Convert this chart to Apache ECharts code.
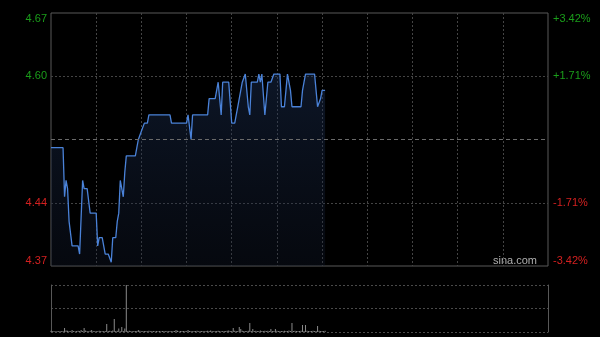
<!DOCTYPE html>
<html><head><meta charset="utf-8">
<script src="https://cdn.jsdelivr.net/npm/echarts@6/dist/echarts.min.js"></script>
<style>html,body{margin:0;padding:0;background:#000}#c{width:600px;height:337px}</style>
</head><body><div id="c"></div>
<script>
const prevClose = 4.52;
const pctMin = -3.42, pctMax = 3.42, pctStep = 1.71;

const prices = [
4.51,4.51,4.51,4.51,4.51,4.51,4.51,4.51,4.51,4.45,
4.47,4.46,4.42,4.42,4.39,4.39,4.39,4.39,4.39,4.38,
4.38,4.47,4.46,4.46,4.46,4.46,4.43,4.43,4.43,4.43,
4.43,4.39,4.40,4.40,4.40,4.40,4.38,4.38,4.38,4.38,
4.37,4.40,4.40,4.40,4.42,4.43,4.47,4.47,4.45,4.48,
4.50,4.50,4.50,4.50,4.50,4.50,4.50,4.51,4.52,4.52,
4.53,4.53,4.54,4.54,4.54,4.55,4.55,4.55,4.55,4.55,
4.55,4.55,4.55,4.55,4.55,4.55,4.55,4.55,4.55,4.55,
4.54,4.54,4.54,4.54,4.54,4.54,4.54,4.54,4.54,4.54,
4.54,4.55,4.55,4.52,4.55,4.55,4.55,4.55,4.55,4.55,
4.55,4.55,4.55,4.55,4.55,4.57,4.57,4.57,4.57,4.57,
4.57,4.59,4.59,4.55,4.59,4.59,4.59,4.59,4.59,4.59,
4.54,4.54,4.54,4.55,4.56,4.57,4.58,4.59,4.59,4.60,
4.60,4.56,4.55,4.59,4.59,4.59,4.59,4.59,4.60,4.59,
4.60,4.60,4.55,4.55,4.59,4.59,4.59,4.59,4.60,4.60,
4.60,4.60,4.60,4.56,4.56,4.56,4.58,4.60,4.60,4.58,
4.56,4.56,4.56,4.56,4.56,4.56,4.56,4.58,4.59,4.60,
4.60,4.60,4.60,4.60,4.60,4.60,4.58,4.56,4.56,4.57,
4.58,4.58,4.58
];

const volumes = [
12,8,10,6,9,7,11,8,10,40,
15,12,9,8,20,10,7,9,12,11,
20,10,40,14,9,8,12,20,10,8,
9,7,12,10,8,9,11,80,10,12,
9,14,130,10,12,35,8,50,10,35,
2000,10,12,9,8,10,11,9,20,12,
8,10,9,11,7,12,8,9,10,8,
9,7,10,8,11,9,8,10,7,9,
8,10,9,20,12,8,10,9,11,10,
8,20,9,11,8,10,9,12,8,10,
9,11,8,10,12,9,14,10,8,11,
9,12,10,8,11,9,10,12,14,10,
11,40,12,9,10,50,30,12,10,11,
9,12,90,11,30,10,12,9,10,14,
10,9,12,11,13,10,30,9,11,30,
12,10,9,11,10,12,9,10,14,11,
90,10,12,9,11,10,12,70,10,70,
12,9,11,10,12,9,10,60,12,10,
11,9,12
];

// trading minutes 09:30-12:00, 13:00-16:00 (merged at noon)
const categories = [];
for (let k = 0; k <= 330; k++) {
  const t = k <= 150 ? 570 + k : 780 + (k - 150);
  const h = Math.floor(t / 60), m = t % 60;
  categories.push((h < 10 ? '0' : '') + h + ':' + (m < 10 ? '0' : '') + m);
}

const pct = prices.map(p => +((p / prevClose - 1) * 100).toFixed(4));
const green = '#1a9e1a', red = '#d42020';
const lblColor = v => (v > 1e-6 ? green : (v < -1e-6 ? red : 'transparent'));
const FONT = '"Liberation Sans", Arial, sans-serif';

const chart = echarts.init(document.getElementById('c'), null, {renderer: 'canvas'});
chart.setOption({
  backgroundColor: '#000',
  animation: false,
  grid: [
    {left: 51, right: 52, top: 13, height: 253, show: true, borderColor: '#585858', borderWidth: 1, backgroundColor: 'transparent'},
    {left: 51, right: 52, top: 285, height: 47}
  ],
  xAxis: [
    {type: 'category', gridIndex: 0, data: categories, boundaryGap: false,
     axisLine: {show: false}, axisTick: {show: false}, axisLabel: {show: false},
     splitLine: {show: true, interval: (i) => i % 30 === 0 && i > 0 && i < 330,
       lineStyle: {color: '#444', type: [2, 2], width: 1}}},
    {type: 'category', gridIndex: 1, data: categories, boundaryGap: false,
     axisLine: {show: false}, axisTick: {show: false}, axisLabel: {show: false}, splitLine: {show: false}}
  ],
  yAxis: [
    {type: 'value', gridIndex: 0, position: 'left', min: pctMin, max: pctMax, interval: pctStep,
     axisLine: {show: false}, axisTick: {show: false},
     axisLabel: {margin: 4, fontSize: 11, fontFamily: FONT, color: lblColor,
       verticalAlignMaxLabel: 'top', verticalAlignMinLabel: 'bottom',
       formatter: v => Math.abs(v) < 1e-6 ? '' : (prevClose * (1 + v / 100)).toFixed(2)},
     splitLine: {show: true, lineStyle: {color: ['transparent', '#444', 'transparent', '#444', 'transparent'], type: [2, 2]}}},
    {type: 'value', gridIndex: 0, position: 'right', min: pctMin, max: pctMax, interval: pctStep,
     axisLine: {show: false}, axisTick: {show: false}, splitLine: {show: false},
     axisLabel: {margin: 5, fontSize: 11, fontFamily: FONT, color: lblColor,
       verticalAlignMaxLabel: 'top', verticalAlignMinLabel: 'bottom',
       formatter: v => Math.abs(v) < 1e-6 ? '' : (v > 0 ? '+' : '') + v.toFixed(2) + '%'}},
    {type: 'value', gridIndex: 1, position: 'left', min: 0, max: 470, interval: 235,
     axisLine: {show: true, lineStyle: {color: '#585858'}}, axisTick: {show: false}, axisLabel: {show: false},
     splitLine: {show: true, lineStyle: {color: '#4a4a4a', type: [2, 2]}}},
    {type: 'value', gridIndex: 1, position: 'right', min: 0, max: 470, interval: 235,
     axisLine: {show: true, lineStyle: {color: '#585858'}}, axisTick: {show: false}, axisLabel: {show: false},
     splitLine: {show: false}}
  ],
  series: [
    {type: 'line', xAxisIndex: 0, yAxisIndex: 0, data: pct, symbol: 'none', smooth: false,
     lineStyle: {color: '#4a82d8', width: 1.3},
     areaStyle: {origin: 'start', color: new echarts.graphic.LinearGradient(0, 0, 0, 1, [
       {offset: 0, color: 'rgba(30,52,92,0.6)'}, {offset: 1, color: 'rgba(20,30,52,0.4)'}])},
     markLine: {silent: true, symbol: 'none', label: {show: false},
       lineStyle: {color: '#6a6a6a', type: [4, 3], width: 1},
       data: [{yAxis: 0}]}},
    {type: 'bar', xAxisIndex: 1, yAxisIndex: 2, data: volumes, barWidth: 1, clip: true,
     itemStyle: {color: '#8a8a8a'}}
  ],
  graphic: [
    {type: 'text', right: 63, top: 255,
     style: {text: 'sina.com', fill: '#b0b0b0', font: '11px "Liberation Sans", Arial, sans-serif'}}
  ]
});
</script>
</body></html>
